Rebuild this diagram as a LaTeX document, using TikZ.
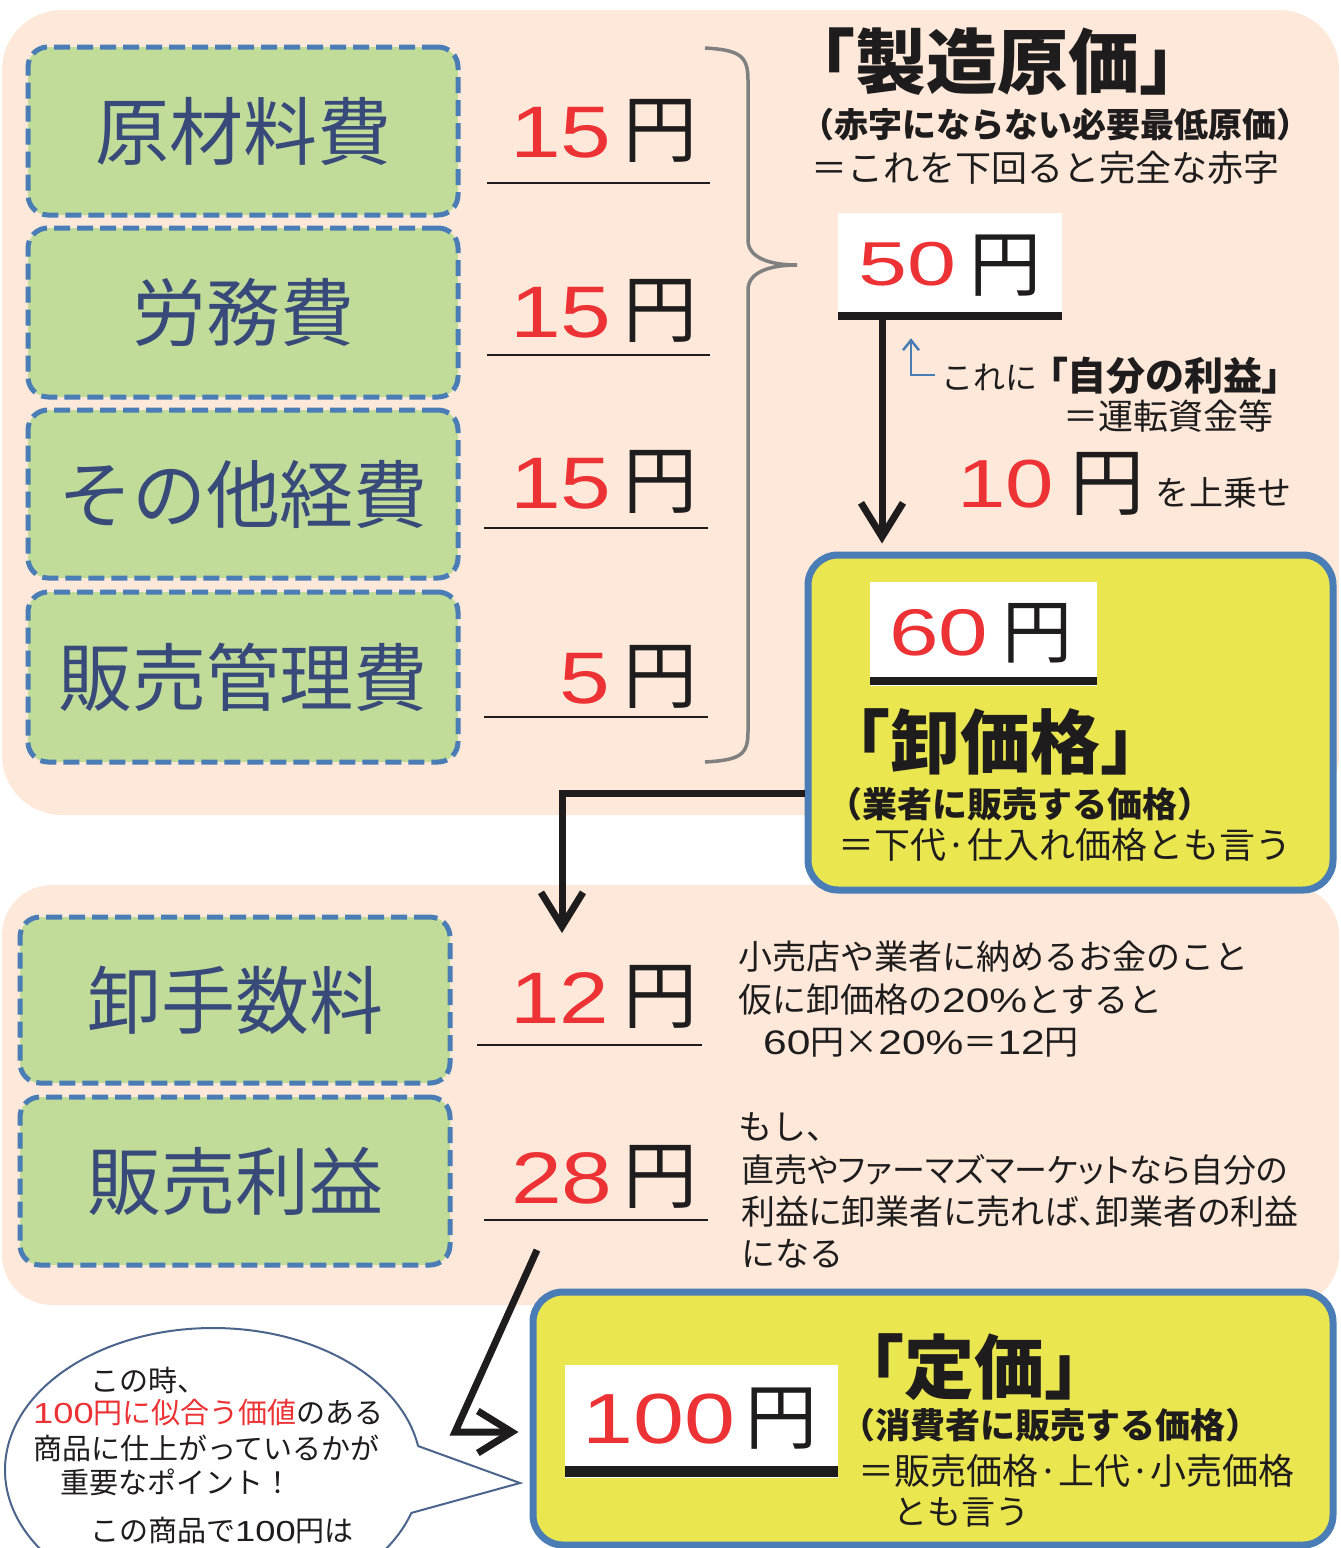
\documentclass[tikz,border=0pt]{standalone}
\usepackage{fontspec}
\usepackage{graphicx}
\usetikzlibrary{arrows.meta}
\newfontfamily\jp{Noto Sans CJK JP}
\newfontfamily\jpp[RawFeature=+palt]{Noto Sans CJK JP}
\newfontfamily\num{Liberation Sans}
\newfontfamily\numw[FakeStretch=1.25]{Liberation Sans}
\definecolor{peach}{RGB}{253,232,217}
\definecolor{leaf}{RGB}{193,220,152}
\definecolor{dashblue}{RGB}{74,124,181}
\definecolor{navy}{RGB}{55,74,122}
\definecolor{pricered}{RGB}{236,50,52}
\definecolor{lemon}{RGB}{234,230,80}
\definecolor{bracegray}{RGB}{128,128,128}
\definecolor{bubbleline}{RGB}{75,100,140}
\definecolor{ink}{RGB}{30,28,28}
\newcommand\fs[1]{\fontsize{#1}{#1}\selectfont}
% digits: size, horizontal scale, text
\newcommand\digits[3]{\scalebox{#2}[1]{\num\fs{#1}#3}}
\newcommand\dg[1]{{\numw #1}}
\begin{document}
\begin{tikzpicture}[x=1pt,y=-1pt,
  greenbox/.style={draw=dashblue, line width=5pt, dash pattern=on 16pt off 7pt, fill=leaf, rounded corners=20pt, minimum width=430pt, inner sep=0pt, font=\jp\fs{74}, text=navy},
  lemonbox/.style={draw=dashblue, line width=7pt, fill=lemon, rounded corners=30pt, inner sep=0pt},
  whitebox/.style={fill=white, inner sep=0pt},
  thinrule/.style={draw=ink, line width=2.5pt},
  thickrule/.style={draw=ink, line width=8pt},
  num/.style={inner sep=0pt, anchor=base west, text=pricered},
  yen/.style={inner sep=0pt, text=ink},
  jptext/.style={inner sep=0pt, font=\jp, text=ink},
  bigarrow/.style={draw=ink, line width=7pt, -{Straight Barb[length=34pt,width=42pt]}},
  smallarrow/.style={draw=dashblue, line width=2.5pt, -{Straight Barb[length=10pt,width=16pt]}},
  bracestyle/.style={draw=bracegray, line width=3.5pt},
  bubble/.style={draw=bubbleline, line width=2pt}
]
\useasboundingbox (0,0) rectangle (1341,1548);
\begin{scope}
\clip (0,0) rectangle (1341,1548);
% panels
\fill[peach, rounded corners=60pt] (2,10) rectangle (1339,815);
\fill[peach, rounded corners=50pt] (2,885) rectangle (1339,1305);

% green boxes
\node[greenbox, minimum height=168pt] (g1) at (243,131) {原材料費};
\node[greenbox, minimum height=169pt] (g2) at (243,312.5) {労務費};
\node[greenbox, minimum height=168pt] (g3) at (243,494) {その他経費};
\node[greenbox, minimum height=170pt] (g4) at (243,677) {販売管理費};
\node[greenbox, minimum height=166pt] (g5) at (235,1000) {卸手数料};
\node[greenbox, minimum height=168pt] (g6) at (235,1181) {販売利益};

% prices
\node[num] (n1) at (510,157) {\digits{73}{1.25}{15}};
\node[yen, font=\jp\fs{74}] (e1) at (660.5,131) {円};
\node[num] (n2) at (510,337) {\digits{73}{1.25}{15}};
\node[yen, font=\jp\fs{74}] (e2) at (660.5,311) {円};
\node[num] (n3) at (510,508) {\digits{73}{1.25}{15}};
\node[yen, font=\jp\fs{74}] (e3) at (660.5,482) {円};
\node[num] (n4) at (559,703) {\digits{73}{1.25}{5}};
\node[yen, font=\jp\fs{74}] (e4) at (660.5,677) {円};
\node[num] (n5) at (510,1023) {\digits{73}{1.22}{12}};
\node[yen, font=\jp\fs{74}] (e5) at (660.5,997) {円};
\node[num] (n6) at (511,1203) {\digits{73}{1.25}{28}};
\node[yen, font=\jp\fs{74}] (e6) at (660.5,1177) {円};
\draw[thinrule] (487,183) -- (710,183);
\draw[thinrule] (487,355) -- (710,355);
\draw[thinrule] (484,528) -- (708,528);
\draw[thinrule] (484,717) -- (708,717);
\draw[thinrule] (477,1045) -- (702,1045);
\draw[thinrule] (484,1220) -- (708,1220);

% brace
\draw[bracestyle] (705,48) .. controls (740,50) and (748,56) .. (748,80) -- (748,240)
  .. controls (748,258) and (770,265) .. (797,265)
  .. controls (770,265) and (748,272) .. (748,290) -- (748,732)
  .. controls (748,755) and (740,760) .. (705,762);

% top right texts
\node[jptext, font=\jp\bfseries\fs{71}] (t1) at (997,62) {「製造原価」};
\node[jptext, font=\jp\bfseries\fs{34}] (t2) at (1055,125) {（赤字にならない必要最低原価）};
\node[jptext, font=\jp\fs{36}] (t3) at (1045,168) {＝これを下回ると完全な赤字};

% 50 yen
\node[whitebox, minimum width=224pt, minimum height=107pt] (w50) at (950,266.5) {};
\node[num] (n50) at (858,285) {\digits{62}{1.42}{50}};
\node[yen, font=\jp\fs{72}] (e50) at (1005.5,266) {円};
\draw[thickrule] (838,316) -- (1062,316);

\node[jptext, font=\jp\fs{32}, anchor=base west] (t4a) at (941,389) {これに};
\node[jptext, font=\jpp\bfseries\fs{39}, anchor=base west] (t4b) at (1048,390) {「自分の利益」};
\node[jptext, font=\jp\fs{35}] (t5) at (1168,416) {＝運転資金等};
\node[num] (n10) at (957,507) {\digits{68}{1.28}{10}};
\node[yen, font=\jp\fs{74}] (e10) at (1107.5,483.5) {円};
\node[jptext, font=\jp\fs{34}] (t6) at (1223,493) {を上乗せ};

% yellow box 1
\node[lemonbox, minimum width=525pt, minimum height=335pt] (y1) at (1070.5,722.5) {};
\node[whitebox, minimum width=227pt, minimum height=104pt] (w60) at (983.5,634) {};
\node[num] (n60) at (889,655) {\digits{66}{1.35}{60}};
\node[yen, font=\jp\fs{70}] (e60) at (1037.5,633.5) {円};
\draw[thickrule] (870,681) -- (1097,681);
\node[jptext, font=\jp\bfseries\fs{70}] (t7) at (995,742) {「卸価格」};
\node[jptext, font=\jp\bfseries\fs{35}] (t8) at (1020,804) {（業者に販売する価格）};
\node[jptext, font=\jp\fs{36}] (t9) at (1065,845) {＝下代·仕入れ価格とも言う};

% arrows
\coordinate (a1x) at (882,0);
\draw[bigarrow, shorten >=8pt] (w50.south -| a1x) -- (y1.north -| a1x);
\coordinate (b1) at (935,375);
\coordinate (b1x) at (911,0);
\draw[smallarrow, shorten >=18pt] (b1) -| (w50.south -| b1x);
\coordinate (a2y) at (0,793);
\coordinate (a2end) at (562,933);
\draw[bigarrow] (y1.west |- a2y) -| (a2end);

% lower right text
\node[jptext, font=\jp\fs{34}, anchor=west] (r1) at (738,957) {小売店や業者に納めるお金のこと};
\node[jptext, font=\jp\fs{34}, anchor=west] (r2) at (738,1000) {仮に卸価格の\dg{20\%}とすると};
\node[jptext, font=\jp\fs{34}, anchor=west] (r3) at (763,1043) {\dg{60}円×\dg{20\%}＝\dg{12}円};
\node[jptext, font=\jp\fs{34}, anchor=west] (r4) at (738,1127) {もし、};
\node[jptext, font=\jpp\fs{33}, anchor=west] (r5) at (741,1170) {直売やファーマズマーケットなら自分の};
\node[jptext, font=\jpp\fs{34}, anchor=west] (r6) at (741,1212) {利益に卸業者に売れば、卸業者の利益};
\node[jptext, font=\jp\fs{34}, anchor=west] (r7) at (741,1254) {になる};

% yellow box 2
\node[lemonbox, minimum width=800pt, minimum height=253pt] (y2) at (933,1418.5) {};
\node[whitebox, minimum width=273pt, minimum height=113pt] (w100) at (701.5,1421.5) {};
\node[num] (n100) at (582,1443) {\digits{71}{1.29}{100}};
\node[yen, font=\jp\fs{72}] (e100) at (781.5,1418.5) {円};
\draw[line width=11pt, ink] (565,1471) -- (838,1471);
\node[jptext, font=\jp\bfseries\fs{70}] (t10) at (974,1367) {「定価」};
\node[jptext, font=\jp\bfseries\fs{35}] (t11) at (1050,1425) {（消費者に販売する価格）};
\node[jptext, font=\jp\fs{36}, anchor=west] (t12) at (858,1471) {＝販売価格·上代·小売価格};
\node[jptext, font=\jp\fs{34}, anchor=west] (t13) at (893,1512) {とも言う};

\coordinate (a3s) at (537,1250);
\coordinate (a3k) at (455,1432);
\draw[bigarrow, shorten >=11pt] (a3s) -- (a3k) -- (y2.west |- a3k);

% bubble
\draw[bubble, fill=white] (213,1470) ellipse [x radius=208, y radius=142];
\fill[white] (418,1446) -- (520,1483) -- (411,1513) -- (395,1480) -- cycle;
\draw[bubble] (418,1446) -- (520,1483) -- (411,1513);
\node[jptext, font=\jp\fs{29}, anchor=west] (s1) at (90,1380) {この時、};
\node[jptext, font=\jp\fs{29}, anchor=west] (s2) at (33,1413) {{\color{pricered}\dg{100}円に似合う価値}のある};
\node[jptext, font=\jp\fs{29}, anchor=west] (s3) at (33,1448) {商品に仕上がっているかが};
\node[jptext, font=\jp\fs{29}, anchor=west] (s4) at (60,1482) {重要なポイント！};
\node[jptext, font=\jp\fs{29}, anchor=west] (s5) at (90,1530) {この商品で\dg{100}円は};
\end{scope}
\end{tikzpicture}
\end{document}
